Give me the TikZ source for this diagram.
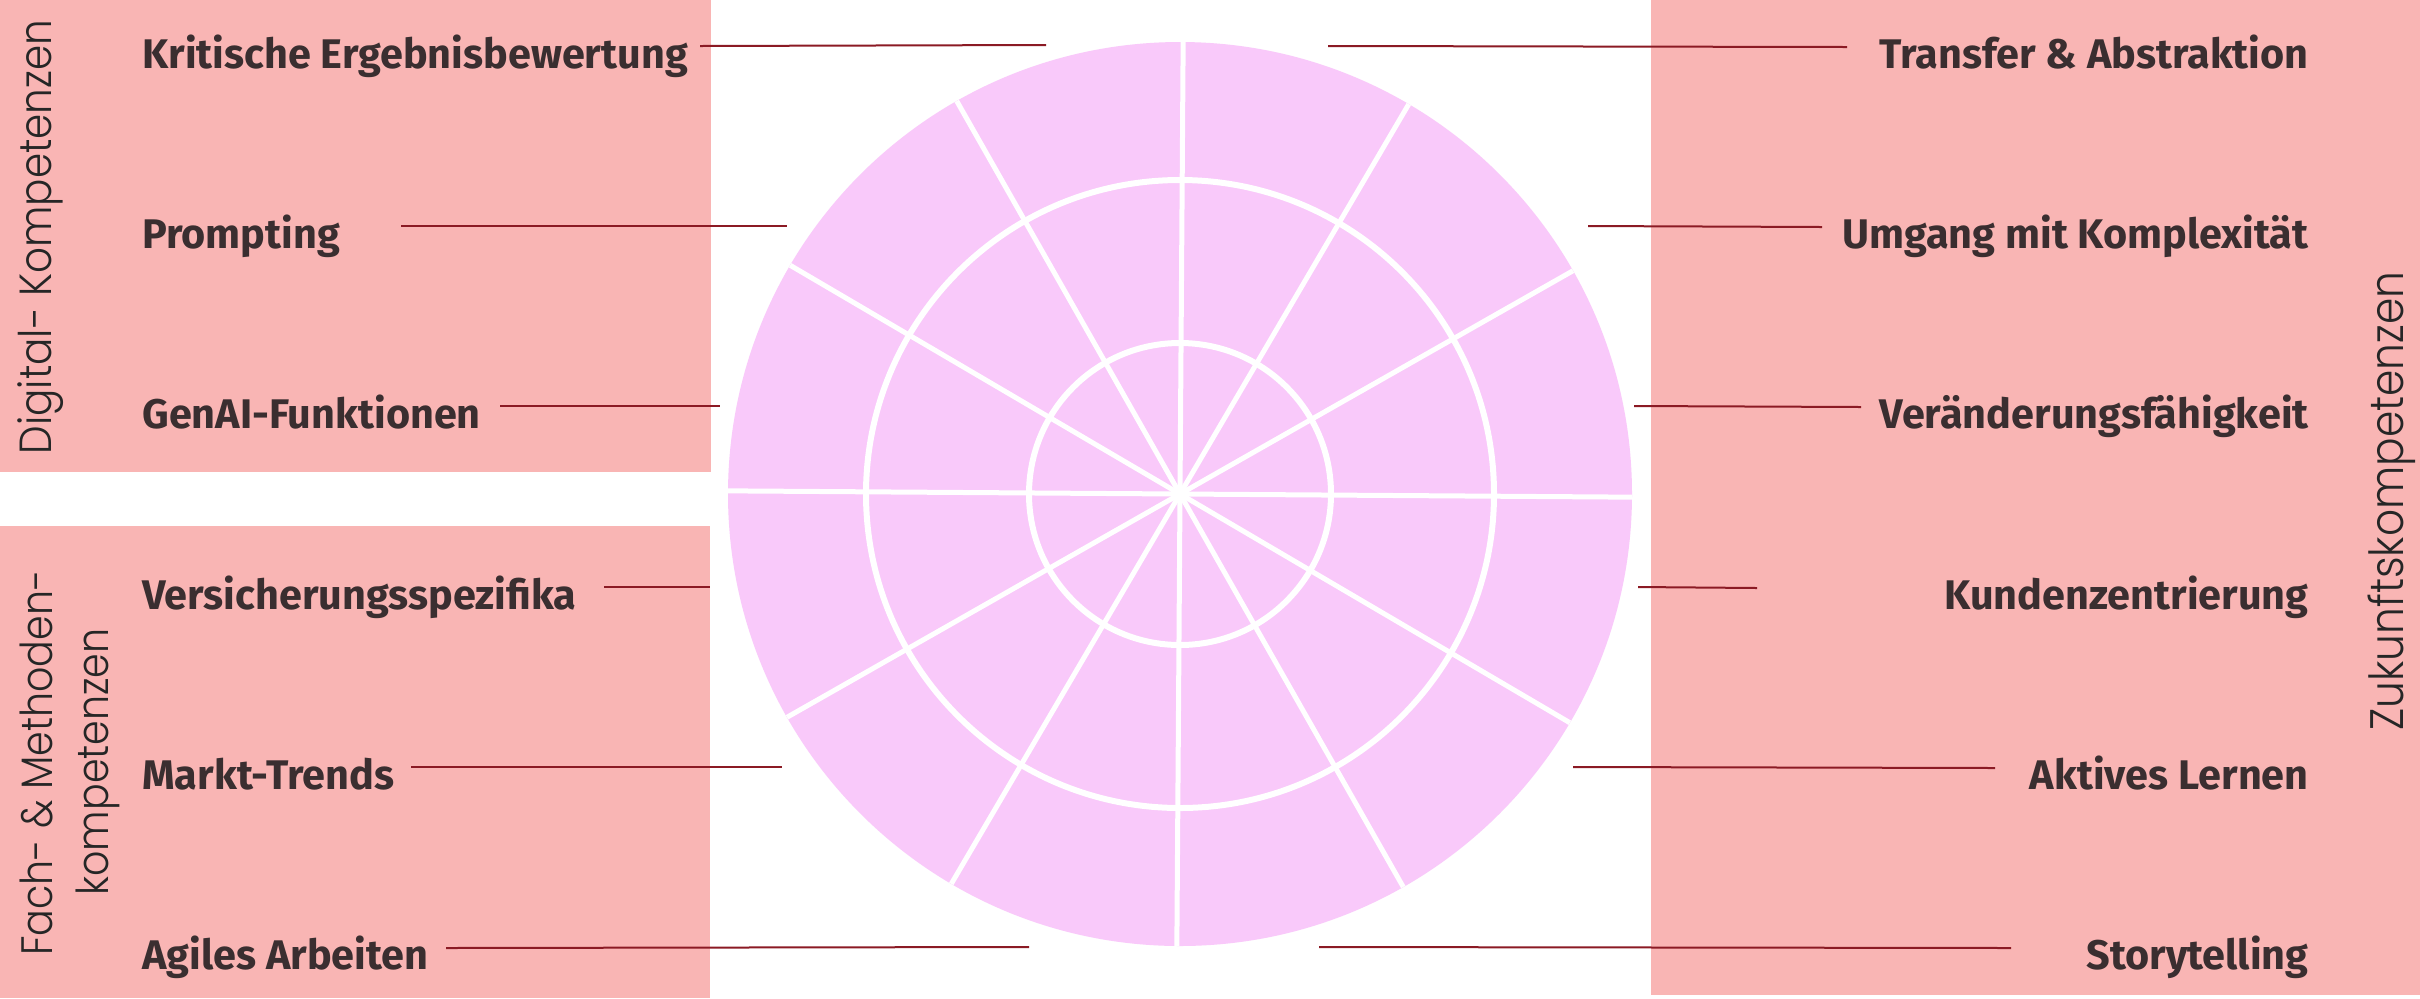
\documentclass[tikz,border=0pt]{standalone}
\usepackage{fontspec}
\newfontfamily\labelfont{Fira Sans}
\newfontfamily\titlefont{Poppins Light}[FakeStretch=0.9]
\definecolor{boxpink}{RGB}{249,181,180}
\definecolor{wheelpink}{RGB}{249,201,250}
\definecolor{txtcol}{RGB}{58,46,48}
\definecolor{conncol}{RGB}{139,26,36}
\begin{document}
\begin{tikzpicture}[x=0.5pt,y=-0.5pt,
  area/.style={fill=boxpink,draw=none},
  lab/.style={font=\labelfont\bfseries\fontsize{20.7}{24}\selectfont,text=txtcol,inner sep=0pt},
  labL/.style={lab,anchor=base west},
  labR/.style={lab,anchor=base east},
  titletext/.style={font=\titlefont,text=black!85,rotate=90,inner sep=0pt},
  connline/.style={draw=conncol,line width=1pt},
  ringline/.style={draw=white,line width=3pt},
  spokeline/.style={draw=white,line width=2.5pt}]
\useasboundingbox (0,0) rectangle (2420,998);
\fill[white] (0,0) rectangle (2420,998);
% areas
\fill[area] (0,0) rectangle (711,472);
\fill[area] (0,526) rectangle (710,998);
\fill[area] (1651,0) rectangle (2420,995);
% wheel
\coordinate (C) at (1180,494);
\fill[wheelpink] (C) circle[radius=452];
\draw[ringline] (C) circle[radius=314];
\draw[ringline] (C) circle[radius=151];
\foreach \a in {0,30,...,330}{
  \draw[spokeline] (C) -- ++(\a+0.4:452);
}
% titles
\node[titletext,anchor=base,font=\titlefont\fontsize{22.5}{26}\selectfont] (tDig) at (51,237) {Digital- Kompetenzen};
\node[titletext,anchor=base,font=\titlefont\fontsize{22}{26}\selectfont] (tFach1) at (52,763) {Fach- \& Methoden-};
\node[titletext,anchor=base,font=\titlefont\fontsize{22}{26}\selectfont] (tFach2) at (108,762) {kompetenzen};
\node[titletext,anchor=base,font=\titlefont\fontsize{23.5}{27}\selectfont] (tZuk) at (2403,501) {Zukunftskompetenzen};
% left labels
\node[labL] (kri) at (142,68) {Kritische Ergebnisbewertung};
\node[labL] (pro) at (142,248) {Prompting};
\node[labL] (gen) at (142,428) {GenAI-Funktionen};
\node[labL] (ver) at (142,609) {Versicherungsspezifika};
\node[labL] (mar) at (142,789) {Markt-Trends};
\node[labL] (agi) at (142,969) {Agiles Arbeiten};
% right labels
\node[labR] (tra) at (2309,68) {Transfer \& Abstraktion};
\node[labR] (umg) at (2309,248) {Umgang mit Komplexität};
\node[labR] (vae) at (2309,428) {Veränderungsfähigkeit};
\node[labR] (kun) at (2309,609) {Kundenzentrierung};
\node[labR] (akt) at (2309,789) {Aktives Lernen};
\node[labR] (sto) at (2309,969) {Storytelling};
% connector ends
\coordinate (l1a) at (700,46);  \coordinate (l1b) at (1046,45);
\coordinate (l2a) at (401,226); \coordinate (l2b) at (787,226);
\coordinate (l3a) at (500,406); \coordinate (l3b) at (720,406);
\coordinate (l4a) at (604,587); \coordinate (l4b) at (710,587);
\coordinate (l5a) at (411,767); \coordinate (l5b) at (782,767);
\coordinate (l6a) at (446,948); \coordinate (l6b) at (1029,947);
\coordinate (r1a) at (1328,46); \coordinate (r1b) at (1847,47);
\coordinate (r2a) at (1588,226); \coordinate (r2b) at (1822,227);
\coordinate (r3a) at (1634,406); \coordinate (r3b) at (1861,407);
\coordinate (r4a) at (1638,587); \coordinate (r4b) at (1757,588);
\coordinate (r5a) at (1573,767); \coordinate (r5b) at (1995,768);
\coordinate (r6a) at (1319,947); \coordinate (r6b) at (2011,948);
\foreach \s in {l1,l2,l3,l4,l5,l6,r1,r2,r3,r4,r5,r6}{
  \draw[connline] (\s a) -- (\s b);
}
\end{tikzpicture}
\end{document}
